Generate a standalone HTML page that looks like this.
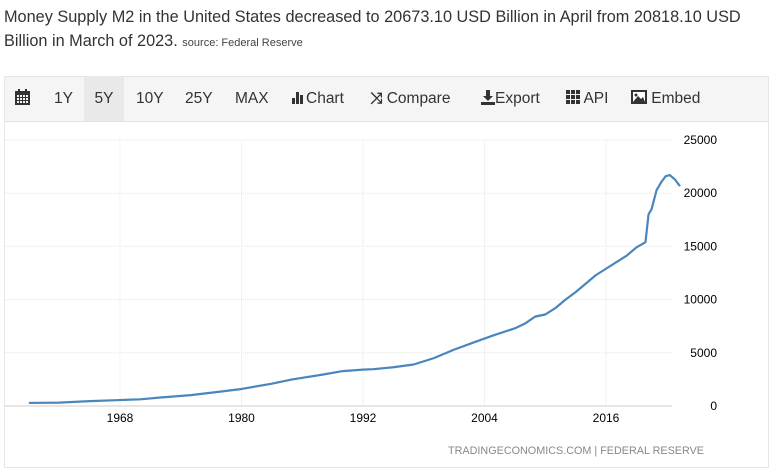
<!DOCTYPE html>
<html><head><meta charset="utf-8"><style>
body{margin:0;width:773px;height:472px;background:#fff;font-family:"Liberation Sans",sans-serif;overflow:hidden;position:relative}
#title{position:absolute;left:4px;top:5px;width:769px;font-size:16.3px;line-height:24px;color:#333}
#title small{font-size:11px;color:#444}
#box{position:absolute;left:4px;top:76px;width:765px;height:392px;border:1px solid #e6e6e6;box-sizing:border-box}
#toolbar{position:absolute;left:0;top:0;width:763px;height:44px;background:#f5f5f5;border-bottom:1px solid #e2e2e2}
.tb{position:absolute;top:0;height:44px;line-height:44px;font-size:15.5px;color:#333}
</style></head><body>
<div id="title">Money Supply M2 in the United States decreased to 20673.10 USD Billion in April from 20818.10 USD Billion in March of 2023. <small>source: Federal Reserve</small></div>
<div id="box">
<div id="toolbar">
<div class="tb" style="left:10px"><svg width="15" height="16" viewBox="0 0 15 16" style="vertical-align:-2px"><rect x="0" y="2" width="15" height="14" fill="#333"/><rect x="3" y="0" width="2" height="4" fill="#333"/><rect x="10" y="0" width="2" height="4" fill="#333"/><g fill="#f5f5f5"><rect x="2" y="6" width="2" height="2"/><rect x="5" y="6" width="2" height="2"/><rect x="8" y="6" width="2" height="2"/><rect x="11" y="6" width="2" height="2"/><rect x="2" y="9" width="2" height="2"/><rect x="5" y="9" width="2" height="2"/><rect x="8" y="9" width="2" height="2"/><rect x="11" y="9" width="2" height="2"/><rect x="2" y="12" width="2" height="2"/><rect x="5" y="12" width="2" height="2"/><rect x="8" y="12" width="2" height="2"/><rect x="11" y="12" width="2" height="2"/></g></svg></div>
<div class="tb" style="left:49px">1Y</div>
<div class="tb" style="left:79px;width:40px;background:#e9e9e9;text-align:center">5Y</div>
<div class="tb" style="left:131px">10Y</div>
<div class="tb" style="left:180px">25Y</div>
<div class="tb" style="left:230px">MAX</div>
<div class="tb" style="left:287px"><svg width="14" height="14" viewBox="0 0 14 14" style="vertical-align:-1px"><rect x="0" y="8" width="3" height="6" fill="#333"/><rect x="4" y="2" width="3" height="12" fill="#333"/><rect x="8" y="5" width="3" height="9" fill="#333"/></svg>Chart</div>
<div class="tb" style="left:365px"><b>⤨</b> Compare</div>
<div class="tb" style="left:476px"><svg width="14" height="15" viewBox="0 0 14 15" style="vertical-align:-2px"><rect x="5" y="0" width="4" height="7" fill="#333"/><polygon points="2,6 12,6 7,11" fill="#333"/><rect x="0" y="12" width="14" height="3" fill="#333"/></svg>Export</div>
<div class="tb" style="left:561px"><svg width="14" height="14" viewBox="0 0 14 14" style="vertical-align:-1px"><g fill="#333"><rect x="0" y="0" width="4" height="4"/><rect x="5" y="0" width="4" height="4"/><rect x="10" y="0" width="4" height="4"/><rect x="0" y="5" width="4" height="4"/><rect x="5" y="5" width="4" height="4"/><rect x="10" y="5" width="4" height="4"/><rect x="0" y="10" width="4" height="4"/><rect x="5" y="10" width="4" height="4"/><rect x="10" y="10" width="4" height="4"/></g></svg> API</div>
<div class="tb" style="left:626px"><svg width="16" height="14" viewBox="0 0 16 14" style="vertical-align:-1px"><rect x="0" y="0" width="16" height="14" fill="#333"/><rect x="2" y="2" width="12" height="10" fill="#fff"/><polygon points="2,12 7,6 10,9 12,7 14,12" fill="#333"/><circle cx="5" cy="5" r="1.5" fill="#333"/></svg> Embed</div>
</div>
</div>
<svg id="chart" width="773" height="472" style="position:absolute;left:0;top:0"></svg>
<script>
const years=[1959,1962,1965,1968,1970,1972,1975,1978,1980,1983,1985,1988,1990,1992,1993,1995,1997,1999,2001,2003,2005,2007,2008,2009,2010,2011,2012,2013,2014,2015,2016,2017,2018,2019,2019.9,2020.2,2020.5,2021,2021.5,2021.9,2022.3,2022.8,2023.3];
const m2=[290,320,460,560,630,800,1020,1360,1600,2100,2500,2950,3280,3420,3460,3640,3900,4500,5300,6000,6680,7300,7750,8400,8600,9200,10000,10700,11500,12300,12900,13500,14100,14900,15400,18000,18500,20300,21100,21600,21700,21300,20673];
const yTicks=[0,5000,10000,15000,20000,25000];
const xTicks=[1968,1980,1992,2004,2016];
const svg=document.getElementById('chart');
const NS='http://www.w3.org/2000/svg';
const X=y=>120+(y-1968)*(606-120)/48;
const Y=v=>406-v*(406-140)/25000;
function mk(t,a){const e=document.createElementNS(NS,t);for(const k in a)e.setAttribute(k,a[k]);svg.appendChild(e);return e;}
yTicks.forEach(v=>{
 const l=mk('line',{x1:5,x2:672,y1:Y(v),y2:Y(v),stroke:v===0?'#ccc':'#e6e6e6','stroke-dasharray':v===0?'':'1,1'});
 
 
 const t=mk('text',{x:717,y:Y(v)+4,'text-anchor':'end','font-size':12,fill:'#000','font-family':'Liberation Sans,sans-serif'});
 t.textContent=v;
 
 
});
xTicks.forEach(yr=>{
 const l=mk('line',{x1:X(yr),x2:X(yr),y1:140,y2:406,stroke:'#e6e6e6','stroke-dasharray':'1,1'});
 
 
 const t=mk('text',{x:X(yr),y:422,'text-anchor':'middle','font-size':12,fill:'#000','font-family':'Liberation Sans,sans-serif'});
 t.textContent=yr;
 
 
});
const p=mk('polyline',{points:years.map((y,i)=>X(y)+','+Y(m2[i])).join(' '),fill:'none',stroke:'#4a86bd','stroke-width':2.2,'stroke-linejoin':'round'});


const f=mk('text',{x:704,y:454,'text-anchor':'end','font-size':10.8,fill:'#888','font-family':'Liberation Sans,sans-serif'});
f.textContent='TRADINGECONOMICS.COM | FEDERAL RESERVE';


</script>
</body></html>
